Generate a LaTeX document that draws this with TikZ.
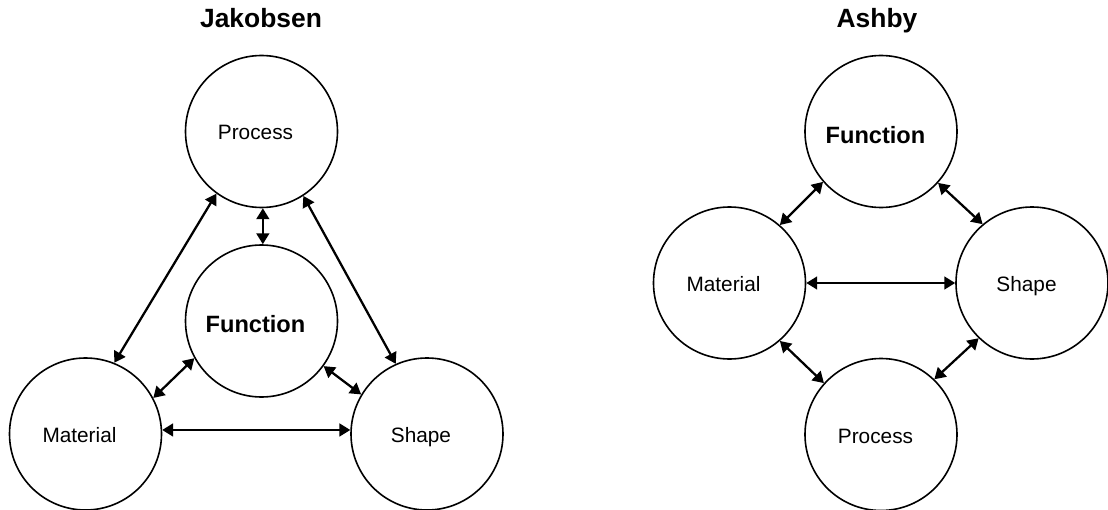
\documentclass[tikz,border=0pt]{standalone}
\usepackage{fontspec}
\setmainfont{Liberation Sans}
\usetikzlibrary{arrows.meta}
\begin{document}
\begin{tikzpicture}[x=0.75pt,y=-0.75pt,
  blob/.style={circle, draw, line width=1.2pt, minimum size=114pt, inner sep=0pt},
  lbl/.style={anchor=base, font=\fontsize{15.6}{18}\selectfont},
  blbl/.style={anchor=base, font=\fontsize{17.7}{21}\selectfont\bfseries},
  ttl/.style={anchor=base, font=\fontsize{19.8}{23}\selectfont\bfseries},
  link/.style={line width=1.7pt, {Triangle[length=8.2pt,width=9.6pt]}-{Triangle[length=8.2pt,width=9.6pt]}}]
\useasboundingbox (0,0) rectangle (1108,510);

% ---------- Jakobsen ----------
\node[ttl] (tJ) at (261,28) {Jakobsen};
\node[blob] (JP) at (261.5,131.5) {};
\node[blob] (JF) at (261.5,321) {};
\node[blob] (JM) at (85.5,434) {};
\node[blob] (JS) at (427,434) {};
\node[lbl]  (JPl) at (255.5,140) {Process};
\node[blbl] (JFl) at (255.5,332.5) {Function};
\node[lbl]  (JMl) at (79.5,442.5) {Material};
\node[lbl]  (JSl) at (421,442.5) {Shape};

\draw[link] (JP.271) -- (JF.89);
\draw[link] (JP.234.8) -- (JM.68.9);
\draw[link] (JP.303.8) -- (JS.114.1);
\draw[link] (JF.209.5) -- (JM.28.7);
\draw[link] (JF.324.4) -- (JS.149.4);
\draw[link] (JM.3) -- (JS.177);

% ---------- Ashby ----------
\node[ttl] (tA) at (877,28) {Ashby};
\node[blob] (AF) at (881,131.5) {};
\node[blob] (AM) at (729.5,283) {};
\node[blob] (AS) at (1032,283) {};
\node[blob] (AP) at (881,434.5) {};
\node[blbl] (AFl) at (875.5,143) {Function};
\node[lbl]  (AMl) at (723.5,291.5) {Material};
\node[lbl]  (ASl) at (1026.5,291.5) {Shape};
\node[lbl]  (APl) at (875.5,443) {Process};

\draw[link] (AF.221.2) -- (AM.49.1);
\draw[link] (AF.318.7) -- (AS.130.6);
\draw[link] (AM.east) -- (AS.west);
\draw[link] (AM.311.5) -- (AP.138.9);
\draw[link] (AS.226) -- (AP.46.2);
\end{tikzpicture}
\end{document}
